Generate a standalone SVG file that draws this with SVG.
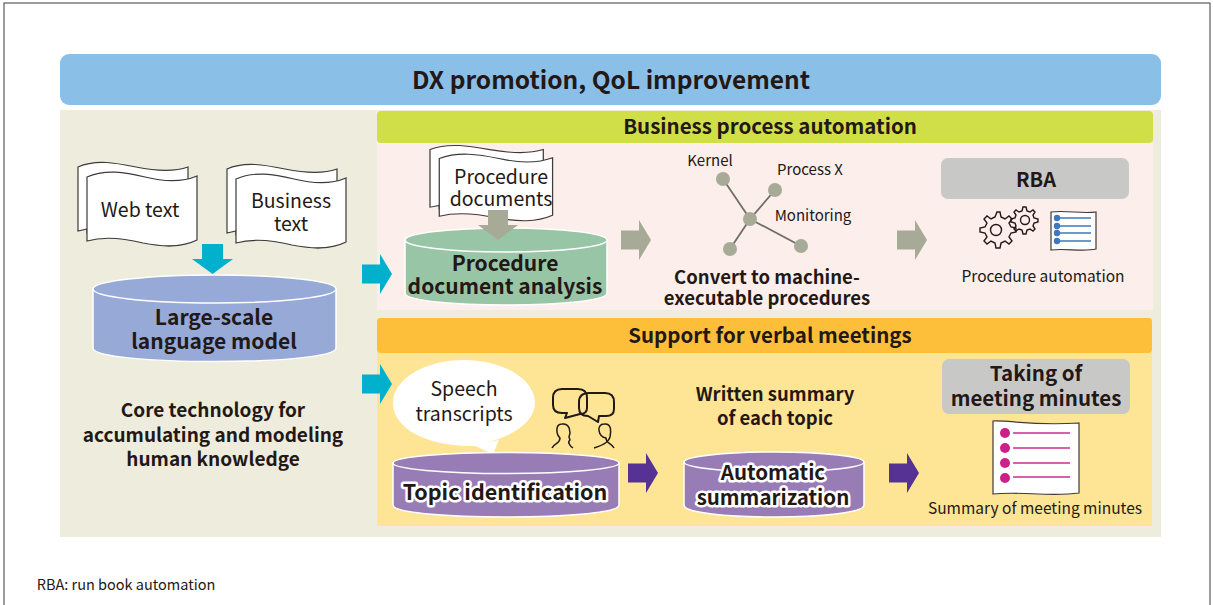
<svg xmlns="http://www.w3.org/2000/svg" xmlns:xlink="http://www.w3.org/1999/xlink" width="1213" height="605" viewBox="0 0 1213 605">
<style>
text{font-family:"Noto Sans CJK JP","Noto Sans",sans-serif;fill:#231815;text-anchor:middle}
.b{font-weight:700}
.halo{stroke:#fff;stroke-width:5px;paint-order:stroke;stroke-linejoin:round}
.doc{fill:#fff;stroke:#3e3a39;stroke-width:1.2}
.cyl{stroke:#fff;stroke-width:1.5}
.edge{stroke:#6f6f66;stroke-width:1.8;fill:none}
.nd{fill:#a8aa98}
.gear{fill:none;stroke:#231815;stroke-width:1.4}
.bub{fill:none;stroke:#231815;stroke-width:2;stroke-linejoin:round}
.blue{stroke:#3e78bd;stroke-width:1.3}
.pk{stroke:#cd2c8f;stroke-width:1.3}
</style>
<defs>
<g id="docpair">
<path class="doc" d="M0,4 C18,-4 38,0 58,4 C78,8 96,9 110,4 V70 H9 V66 L0,68 Z"/>
<path class="doc" d="M9,14 C27,6 47,9 67,14 C87,19 105,19 119,13 V77 C103,85 85,84 65,80 C45,75 27,73 9,78 Z"/>
</g>
<path id="ar" d="M0,-9.5 H18 V-20 L30,0 L18,20 V9.5 H0 Z"/>
</defs>
<rect x="4" y="3" width="1206" height="640" fill="#fff" stroke="#3e3a39" stroke-width="1"/>
<g id="bg-panel"><rect x="60" y="110" width="1101" height="427" fill="#edecdd"/></g>
<g id="top-banner">
<rect x="60" y="54" width="1101" height="51" rx="9" fill="#8abfe8"/>
<text class="b" x="611" y="89" font-size="24.5">DX promotion, QoL improvement</text>
</g>
<g id="panel-bpa">
<rect x="377" y="111" width="776" height="199" fill="#fbeeeb"/>
<rect x="377" y="111" width="776" height="32" rx="4" fill="#d0de47"/>
<text class="b" x="770" y="134" font-size="20.5">Business process automation</text>
</g>
<g id="panel-meeting">
<rect x="377" y="318" width="775" height="208" fill="#fee595"/>
<rect x="377" y="318" width="775" height="35" rx="4" fill="#fdbe3a"/>
<text class="b" x="770" y="343" font-size="20.5">Support for verbal meetings</text>
</g>
<g id="connectors">
<use xlink:href="#ar" transform="translate(362,274)" fill="#00b0cd"/>
<use xlink:href="#ar" transform="translate(362,384)" fill="#00b0cd"/>
<path d="M202,244 H223 V259 H233 L212.500,274 L192,259 H202 Z" fill="#00b0cd"/>
<use xlink:href="#ar" transform="translate(621,240)" fill="#a8aa98"/>
<use xlink:href="#ar" transform="translate(897,240)" fill="#a8aa98"/>
<use xlink:href="#ar" transform="translate(628,473)" fill="#553293"/>
<use xlink:href="#ar" transform="translate(889,473)" fill="#553293"/>
</g>
<g id="web-text">
<use xlink:href="#docpair" transform="translate(78,163)"/>
<text x="140" y="217" font-size="19.500">Web text</text>
</g>
<g id="business-text">
<use xlink:href="#docpair" transform="translate(227,165)"/>
<text x="291" y="208" font-size="19.500">Business</text>
<text x="291" y="231" font-size="19.500">text</text>
</g>
<g id="large-model">
<path class="cyl" d="M93,289 V348 C93,366 336,366 336,348 V289 Z" fill="#96a9d7"/>
<ellipse class="cyl" cx="214.500" cy="289" rx="121.500" ry="14" fill="#96a9d7"/>
<text class="b" x="214" y="325" font-size="21">Large-scale</text>
<text class="b" x="214" y="349" font-size="21">language model</text>
</g>
<g id="core-label">
<text class="b" x="213" y="417" font-size="19">Core technology for</text>
<text class="b" x="213" y="442" font-size="19">accumulating and modeling</text>
<text class="b" x="213" y="466" font-size="19">human knowledge</text>
</g>
<g id="procedure-docs">
<use xlink:href="#docpair" transform="translate(430,146) scale(1.03,0.9)"/>
<text x="501" y="184" font-size="19.500">Procedure</text>
<text x="501" y="206" font-size="19.500">documents</text>
</g>
<g id="procedure-analysis">
<path class="cyl" d="M405,240 V293 C405,309 607,309 607,293 V240 Z" fill="#97c5a6"/>
<ellipse class="cyl" cx="506" cy="240" rx="101" ry="12" fill="#97c5a6"/>
<path d="M488,210 H508 V225 H518 L498,240 L478,225 H488 Z" fill="#a8aa98"/>
<text class="b" x="505" y="271" font-size="21">Procedure</text>
<text class="b" x="505" y="294" font-size="21">document analysis</text>
</g>
<g id="process-graph">
<path class="edge" d="M723,179 L750,219 L775,190 M750,219 L730,249 M750,219 L801,246"/>
<circle class="nd" cx="723" cy="179" r="7"/><circle class="nd" cx="775" cy="190" r="7"/>
<circle class="nd" cx="750" cy="219" r="7"/><circle class="nd" cx="730" cy="249" r="7"/><circle class="nd" cx="801" cy="246" r="7"/>
<text x="710" y="166" font-size="15">Kernel</text>
<text x="810" y="175" font-size="15">Process X</text>
<text x="813" y="221" font-size="15">Monitoring</text>
<text class="b" x="767" y="284" font-size="18.500">Convert to machine-</text>
<text class="b" x="767" y="305" font-size="18.500">executable procedures</text>
</g>
<g id="rba">
<rect x="941" y="158" width="188" height="41" rx="7" fill="#c8c9c7"/>
<text class="b" x="1036" y="187" font-size="20">RBA</text>
<g class="gear">
<path d="M997,212 l3,0 1,5 4,2 4,-3 3,3 -3,4 2,4 5,1 0,4 -5,1 -2,4 3,4 -3,3 -4,-3 -4,2 -1,5 -4,0 -1,-5 -4,-2 -4,3 -3,-3 3,-4 -2,-4 -5,-1 0,-4 5,-1 2,-4 -3,-4 3,-3 4,3 4,-2 Z"/>
<circle cx="996" cy="230" r="5.500"/>
<path d="M1023,207 l3,0 1,4 3,1 3,-2 2,2 -2,3 1,3 4,1 0,3 -4,1 -1,3 2,3 -2,2 -3,-2 -3,1 -1,4 -3,0 -1,-4 -3,-1 -3,2 -2,-2 2,-3 -1,-3 -4,-1 0,-3 4,-1 1,-3 -2,-3 2,-2 3,2 3,-1 Z"/>
<circle cx="1025" cy="220" r="4.500"/>
</g>
<path class="doc" d="M1051,212 C1066,210 1082,214 1096,212 V249 C1082,252 1066,248 1051,250 Z"/>
<g class="blue"><path d="M1057,218 H1091 M1057,226 H1091 M1057,233 H1091 M1057,241 H1091"/></g>
<g fill="#3e78bd"><circle cx="1057" cy="218" r="3.200"/><circle cx="1057" cy="226" r="3.200"/><circle cx="1057" cy="233" r="3.200"/><circle cx="1057" cy="241" r="3.200"/></g>
<text x="1043" y="282" font-size="15.500">Procedure automation</text>
</g>
<g id="speech-bubble">
<path d="M475,445 C515,438 535,420 535,403 C535,379 503,360 464,360 C425,360 393,379 393,403 C393,430 430,447 475,446 L493,454 L499,440 Z" fill="#fff"/>
<text x="464" y="396" font-size="19.500">Speech</text>
<text x="464" y="421" font-size="19.500">transcripts</text>
</g>
<g id="people">
<path class="bub" d="M562,389 H578 Q587,389 587,398 V408 Q587,414 580,414 L565,418 L567,413 H562 Q553,413 553,405 V398 Q553,389 562,389 Z"/>
<path class="bub" d="M589,393 H605 Q614,393 614,402 V409 Q614,416 606,416 H599 L598,422 L588,416 Q579,416 579,408 V402 Q579,393 589,393 Z"/>
<path class="bub" style="stroke-width:1.500" d="M552,448 C555,442 560,444 560,438 C556,434 555,424 562,424 C570,423 571,432 569,437 L570,440 C567,442 570,446 573,448"/>
<path class="bub" style="stroke-width:1.500" d="M614,448 C611,442 606,444 606,438 C598,437 596,424 604,424 C612,423 611,432 610,437 C609,441 606,444 594,448"/>
</g>
<g id="topic-identification">
<path class="cyl" d="M393,463 V505 C393,521 619,521 619,505 V463 Z" fill="#987cb6"/>
<ellipse class="cyl" cx="506" cy="463" rx="113" ry="10.500" fill="#987cb6"/>
<text class="b halo" x="505" y="500" font-size="21.500">Topic identification</text>
</g>
<g id="written-label">
<text class="b" x="775" y="401" font-size="18.500">Written summary</text>
<text class="b" x="775" y="425" font-size="18.500">of each topic</text>
</g>
<g id="auto-summary">
<path class="cyl" d="M684,462 V505 C684,521 864,521 864,505 V462 Z" fill="#987cb6"/>
<ellipse class="cyl" cx="774" cy="462" rx="90" ry="10" fill="#987cb6"/>
<text class="b halo" x="773" y="480" font-size="20.500">Automatic</text>
<text class="b halo" x="773" y="505" font-size="20.500">summarization</text>
</g>
<g id="minutes">
<rect x="942" y="359" width="188" height="55" rx="7" fill="#c8c9c7"/>
<text class="b" x="1036" y="381" font-size="20.500">Taking of</text>
<text class="b" x="1036" y="406" font-size="20.500">meeting minutes</text>
<path class="doc" d="M993,421 C1010,420 1030,426 1079,423 V493 C1050,497 1020,491 993,494 Z"/>
<g class="pk"><path d="M1013,433 H1070 M1013,448 H1070 M1013,463 H1070 M1013,477 H1070"/></g>
<g fill="#cd1f87"><circle cx="1005" cy="433" r="5"/><circle cx="1005" cy="448" r="5"/><circle cx="1005" cy="463" r="5"/><circle cx="1005" cy="478" r="5"/></g>
<text x="1035" y="514" font-size="15.500">Summary of meeting minutes</text>
</g>
<g id="footnote"><text x="126" y="590" font-size="14.500">RBA: run book automation</text></g>
</svg>
